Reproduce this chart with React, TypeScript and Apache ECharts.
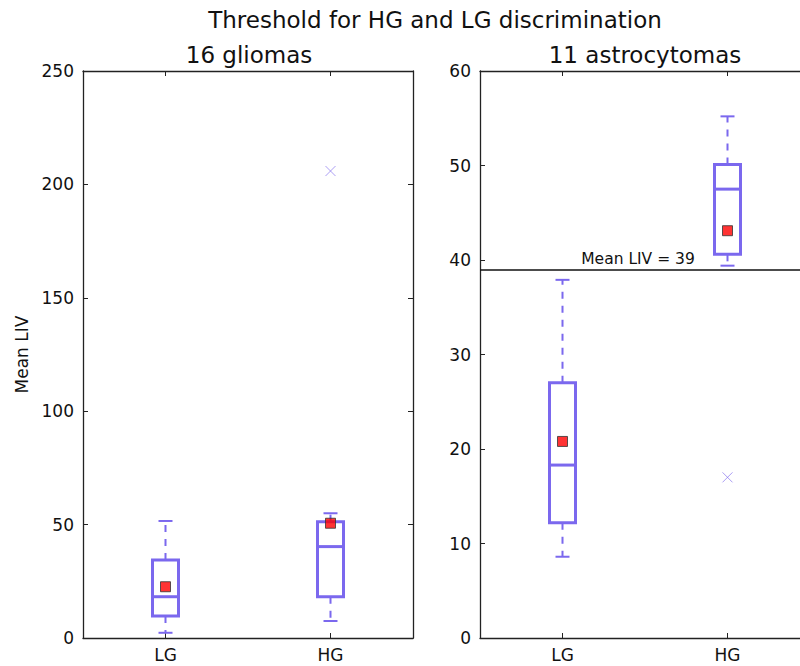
import React, { useEffect, useRef } from "react";
import * as echarts from "echarts";

const categories = ["LG", "HG"];
// [low whisker, Q1, median, Q3, high whisker]
const gliomasBoxes = [
  [2.3, 9.7, 18.2, 34.4, 51.6],
  [7.5, 18.2, 40.3, 51.3, 55.0],
];
const gliomasMeans = [22.6, 50.6];
const gliomasOutliers: [string, number][] = [["HG", 205.9]];

const astroBoxes = [
  [8.6, 12.2, 18.3, 27.0, 37.9],
  [39.4, 40.6, 47.5, 50.1, 55.2],
];
const astroMeans = [20.8, 43.1];
const astroOutliers: [string, number][] = [["HG", 17.0]];
const threshold = 39;

const leftTicks = { min: 0, max: 250, interval: 50 };
const rightTicks = { min: 0, max: 60, interval: 10 };

const BOX_COLOR = "#7B68EE";
const FONT = "DejaVu Sans";

function boxRender(params: any, api: any) {
  const idx = api.value(0);
  const low = api.coord([idx, api.value(1)]);
  const q1 = api.coord([idx, api.value(2)]);
  const med = api.coord([idx, api.value(3)]);
  const q3 = api.coord([idx, api.value(4)]);
  const high = api.coord([idx, api.value(5)]);
  const cx = low[0];
  const bw = 26;
  const cw = 14;
  const solid = { stroke: BOX_COLOR, lineWidth: 2, fill: "none" };
  const dashed = { stroke: BOX_COLOR, lineWidth: 2, lineDash: [7, 7], fill: "none" };
  return {
    type: "group",
    children: [
      { type: "line", shape: { x1: cx, y1: q3[1], x2: cx, y2: high[1] }, style: dashed },
      { type: "line", shape: { x1: cx, y1: q1[1], x2: cx, y2: low[1] }, style: dashed },
      { type: "line", shape: { x1: cx - cw / 2, y1: high[1], x2: cx + cw / 2, y2: high[1] }, style: solid },
      { type: "line", shape: { x1: cx - cw / 2, y1: low[1], x2: cx + cw / 2, y2: low[1] }, style: solid },
      {
        type: "rect",
        shape: { x: cx - bw / 2, y: q3[1], width: bw, height: q1[1] - q3[1] },
        style: { stroke: BOX_COLOR, lineWidth: 3, fill: "#fff" },
      },
      {
        type: "line",
        shape: { x1: cx - bw / 2, y1: med[1], x2: cx + bw / 2, y2: med[1] },
        style: { stroke: BOX_COLOR, lineWidth: 3 },
      },
    ],
  };
}

const axisLine = { show: true, onZero: false, lineStyle: { color: "#222", width: 1.3 } };
const tickIn = { show: true, inside: true, length: 5, lineStyle: { color: "#222", width: 1 } };

function makeX(gridIndex: number, position: "top" | "bottom") {
  return {
    type: "category",
    gridIndex,
    position,
    data: categories,
    boundaryGap: true,
    axisLine,
    axisTick: { ...tickIn, alignWithLabel: true },
    axisLabel: {
      show: position === "bottom",
      color: "#111",
      fontFamily: FONT,
      fontSize: 17,
      margin: 8,
    },
    splitLine: { show: false },
  };
}

function makeY(gridIndex: number, position: "left" | "right", ticks: any, name?: string) {
  return {
    type: "value",
    gridIndex,
    position,
    ...ticks,
    axisLine,
    axisTick: tickIn,
    axisLabel: {
      show: position === "left",
      color: "#111",
      fontFamily: FONT,
      fontSize: 17,
      margin: 9,
    },
    splitLine: { show: false },
    name: name || "",
    nameLocation: "middle",
    nameRotate: 90,
    nameGap: 53,
    nameTextStyle: { color: "#111", fontFamily: FONT, fontSize: 17 },
  };
}

export default function App() {
  const ref = useRef<HTMLDivElement>(null);
  useEffect(() => {
    const chart = echarts.init(ref.current!, null, { renderer: "svg" });
    const boxData = (b: number[][]) => b.map((v, i) => [i, ...v]);
    const meanData = (m: number[]) => m.map((v, i) => [categories[i], v]);
    const outlierSymbol = "path://M0,0L10,10M10,0L0,10";
    const titleStyle = {
      fontFamily: FONT,
      fontSize: 23,
      fill: "#111",
      textAlign: "center",
      textVerticalAlign: "middle",
    };
    chart.setOption({
      animation: false,
      backgroundColor: "#fff",
      grid: [
        { left: 83, top: 71, width: 330, height: 567 },
        { left: 480, top: 71, width: 330, height: 567 },
      ],
      xAxis: [makeX(0, "bottom"), makeX(0, "top"), makeX(1, "bottom"), makeX(1, "top")],
      yAxis: [
        makeY(0, "left", leftTicks, "Mean LIV"),
        makeY(0, "right", leftTicks),
        makeY(1, "left", rightTicks),
        makeY(1, "right", rightTicks),
      ],
      graphic: [
        {
          type: "text",
          x: 435,
          y: 20,
          style: { ...titleStyle, text: "Threshold for HG and LG discrimination" },
        },
        { type: "text", x: 249, y: 55, style: { ...titleStyle, text: "16 gliomas" } },
        { type: "text", x: 645, y: 55, style: { ...titleStyle, text: "11 astrocytomas" } },
      ],
      series: [
        {
          type: "custom",
          xAxisIndex: 0,
          yAxisIndex: 0,
          renderItem: boxRender,
          encode: { x: 0, y: [1, 2, 3, 4, 5] },
          data: boxData(gliomasBoxes),
          z: 2,
        },
        {
          type: "scatter",
          xAxisIndex: 0,
          yAxisIndex: 0,
          symbol: "rect",
          symbolSize: 10,
          itemStyle: { color: "#ff0000", borderColor: "#333", borderWidth: 1 },
          data: meanData(gliomasMeans),
          z: 5,
        },
        {
          type: "scatter",
          xAxisIndex: 0,
          yAxisIndex: 0,
          symbol: outlierSymbol,
          symbolSize: 10,
          itemStyle: { color: "none", borderColor: "rgba(123,104,238,0.8)", borderWidth: 1 },
          data: gliomasOutliers,
          z: 5,
        },
        {
          type: "custom",
          xAxisIndex: 2,
          yAxisIndex: 2,
          renderItem: boxRender,
          encode: { x: 0, y: [1, 2, 3, 4, 5] },
          data: boxData(astroBoxes),
          z: 2,
          markLine: {
            silent: true,
            symbol: "none",
            lineStyle: { color: "#111", width: 1.5, type: "solid" },
            label: {
              show: true,
              position: "middle",
              formatter: "Mean LIV = " + threshold,
              fontFamily: FONT,
              fontSize: 15.5,
              color: "#111",
              distance: 2,
              offset: [-7, 0],
            },
            data: [{ yAxis: threshold }],
          },
        },
        {
          type: "scatter",
          xAxisIndex: 2,
          yAxisIndex: 2,
          symbol: "rect",
          symbolSize: 10,
          itemStyle: { color: "#ff0000", borderColor: "#333", borderWidth: 1 },
          data: meanData(astroMeans),
          z: 5,
        },
        {
          type: "scatter",
          xAxisIndex: 2,
          yAxisIndex: 2,
          symbol: outlierSymbol,
          symbolSize: 10,
          itemStyle: { color: "none", borderColor: "rgba(123,104,238,0.8)", borderWidth: 1 },
          data: astroOutliers,
          z: 5,
        },
      ],
    });
    return () => chart.dispose();
  }, []);
  return (
    <div
      style={{ position: "absolute", left: 0, top: 0, width: 800, height: 666, overflow: "hidden" }}
    >
      <div ref={ref} style={{ width: 830, height: 666 }} />
    </div>
  );
}
